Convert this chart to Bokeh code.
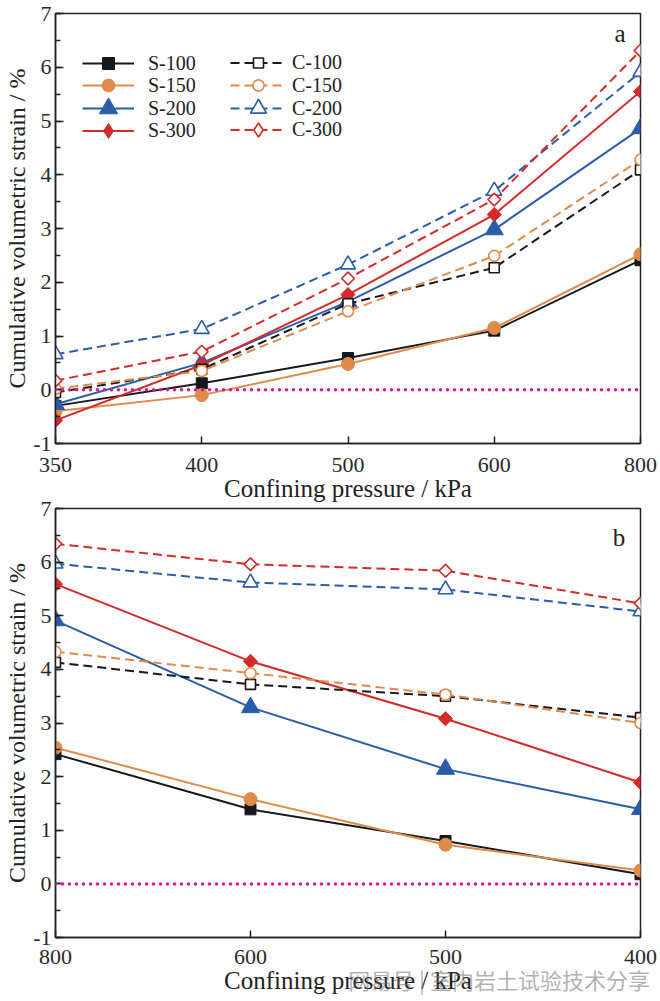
import math
from bokeh.plotting import figure
from bokeh.layouts import column
from bokeh.models import (Range1d, FixedTicker, SingleIntervalTicker, Legend,
                          LegendItem, Label, Span, Div)
from bokeh.embed import file_html
from bokeh.resources import INLINE

# ---------------- data ----------------
pressure_a = ["350", "400", "500", "600", "800"]
pressure_b = ["800", "600", "500", "400"]

s100_a = [-0.30, 0.12, 0.59, 1.10, 2.41]
s150_a = [-0.40, -0.10, 0.48, 1.15, 2.52]
s200_a = [-0.27, 0.50, 1.64, 2.98, 4.86]
s300_a = [-0.57, 0.46, 1.77, 3.26, 5.55]
c100_a = [-0.05, 0.38, 1.60, 2.27, 4.09]
c150_a = [0.02, 0.35, 1.46, 2.49, 4.28]
c200_a = [0.66, 1.13, 2.33, 3.70, 5.91]
c300_a = [0.17, 0.71, 2.07, 3.54, 6.31]

s100_b = [2.42, 1.39, 0.80, 0.18]
s150_b = [2.54, 1.58, 0.73, 0.25]
s200_b = [4.91, 3.29, 2.14, 1.39]
s300_b = [5.59, 4.15, 3.08, 1.89]
c100_b = [4.13, 3.72, 3.50, 3.10]
c150_b = [4.33, 3.93, 3.53, 3.00]
c200_b = [5.97, 5.62, 5.49, 5.08]
c300_b = [6.34, 5.96, 5.84, 5.23]

s_labels = ["S-100", "S-150", "S-200", "S-300"]
c_labels = ["C-100", "C-150", "C-200", "C-300"]

y_ticks_interval = 1
x_title = "Confining pressure / kPa"
y_title = "Cumulative volumetric strain / %"
watermark = "网易号 | 室内岩土试验技术分享"

# ---------------- styles ----------------
SERIF = "Liberation Serif"
INK = "#222222"
COLORS = ["#17181e", "#E08A4C", "#2B5CAA", "#D42B28"]
MAGENTA = "#E0198A"
S_MARK = [("square", 11, 0.0), ("circle", 13, 0.0), ("triangle", 18, 0.0),
          ("square", 10, math.pi / 4)]
C_MARK = [("square", 10, 0.0), ("circle", 11, 0.0), ("triangle", 15, 0.0),
          ("square", 9, math.pi / 4)]
# legend glyph box heights (legend marker size = 0.4 * box height)
S_LEG_H = [30, 32, 46, 37]
C_LEG_H = [25, 28, 40, 35]
LEG_ROWS = [50, 72, 95, 117]             # row centres below the frame top (px)
LEG_COLS = [(27, 52, 14), (175, 56, 6)]  # x offset, glyph width, standoff


def make_fig(cats, s_series, c_series, tag, tag_x, tag_y, frame_h,
             top_border, bottom_border, tick_standoff, with_legend):
    n = len(cats)
    xs = list(range(n))
    p = figure(frame_width=585, frame_height=frame_h,
               x_range=Range1d(0, n - 1), y_range=Range1d(-1, 7),
               output_backend="svg", toolbar_location=None,
               min_border_left=55, min_border_right=18,
               min_border_top=top_border, min_border_bottom=bottom_border)
    p.xgrid.visible = False
    p.ygrid.visible = False
    p.outline_line_color = INK
    p.outline_line_width = 1.5
    p.background_fill_color = "white"
    p.border_fill_color = "white"

    for ax in (p.xaxis[0], p.yaxis[0]):
        ax.axis_line_color = INK
        ax.axis_line_width = 1.5
        ax.major_tick_line_color = INK
        ax.major_tick_line_width = 1.5
        ax.major_label_text_font = SERIF
        ax.major_label_text_font_size = "22px"
        ax.major_label_text_color = "#2a2a2a"
        ax.axis_label_text_font = SERIF
        ax.axis_label_text_font_style = "normal"
        ax.axis_label_text_color = INK
        ax.axis_label_standoff = 0
    xa = p.xaxis[0]
    xa.ticker = FixedTicker(ticks=xs)
    xa.major_label_overrides = {i: c for i, c in enumerate(cats)}
    xa.major_tick_in = 7
    xa.major_tick_out = 0
    xa.minor_tick_line_color = None
    xa.major_label_standoff = tick_standoff
    xa.axis_label = x_title
    xa.axis_label_text_font_size = "25px"
    ya = p.yaxis[0]
    ya.ticker = SingleIntervalTicker(interval=y_ticks_interval, num_minor_ticks=2)
    ya.major_label_overrides = {-1: "-1"}
    ya.major_tick_in = 8
    ya.major_tick_out = 0
    ya.minor_tick_in = 5
    ya.minor_tick_out = 0
    ya.minor_tick_line_color = INK
    ya.minor_tick_line_width = 1.5
    ya.major_label_standoff = 4
    ya.axis_label = y_title
    ya.axis_label_text_font_size = "24px"

    items = []
    for group, (series, labels, marks, filled, dash, leg_h) in enumerate([
            (s_series, s_labels, S_MARK, True, "solid", S_LEG_H),
            (c_series, c_labels, C_MARK, False, "9 5", C_LEG_H)]):
        for i, ys in enumerate(series):
            mk, sz, ang = marks[i]
            fill = COLORS[i] if filled else "white"
            lw = 1 if filled else 1.6
            lr = p.line(xs, ys, line_color=COLORS[i], line_width=2, line_dash=dash)
            mr = p.scatter(xs, ys, marker=mk, size=sz, angle=ang,
                           fill_color=fill, line_color=COLORS[i], line_width=lw)
            if ang:
                # hidden proxy so that the legend shows a diamond
                mr = p.scatter(xs, ys, marker="diamond", fill_color=fill,
                               line_color=COLORS[i], line_width=lw, visible=False)
            items.append((group, i, labels[i], lr, mr, leg_h[i]))

    p.add_layout(Span(location=0, dimension="width", line_color=MAGENTA,
                      line_width=3.5, line_dash="0 7", line_cap="round"))

    if with_legend:
        for group, i, lab, lr, mr, gh in items:
            x0, gw, so = LEG_COLS[group]
            y0 = frame_h - LEG_ROWS[i] - gh / 2
            p.add_layout(Legend(
                items=[LegendItem(label=lab, renderers=[lr, mr])],
                location=(x0, int(round(y0))), orientation="vertical",
                glyph_width=gw, glyph_height=gh, label_height=20,
                label_standoff=so, padding=0, margin=0, spacing=0,
                border_line_alpha=0, background_fill_alpha=0,
                label_text_font=SERIF, label_text_font_size="20px",
                label_text_color=INK))

    p.add_layout(Label(x=tag_x, y=tag_y, text=tag, text_font=SERIF,
                       text_font_size="25px", text_align="center",
                       text_baseline="alphabetic", text_color=INK))
    return p


p1 = make_fig(pressure_a, [s100_a, s150_a, s200_a, s300_a],
              [c100_a, c150_a, c200_a, c300_a], "a", tag_x=3.86, tag_y=6.63,
              frame_h=430, top_border=13, bottom_border=66, tick_standoff=14,
              with_legend=True)
p2 = make_fig(pressure_b, [s100_b, s150_b, s200_b, s300_b],
              [c100_b, c150_b, c200_b, c300_b], "b", tag_x=2.89, tag_y=6.46,
              frame_h=429, top_border=13, bottom_border=58, tick_standoff=12,
              with_legend=False)
# let panel b's transparent top border overlap panel a's bottom border
p2.border_fill_alpha = 0
p2.margin = (-14, 0, 0, 0)

mark = Div(text=watermark, width=320, height=30, margin=(-32, 0, 0, 330),
           styles={"font-family": "Noto Sans CJK SC", "font-size": "22px",
                   "color": "rgba(110,110,110,0.55)", "white-space": "nowrap",
                   "text-align": "right"})

layout = column(p1, p2, mark, spacing=0)
open("out.html", "w").write(file_html(layout, INLINE))
